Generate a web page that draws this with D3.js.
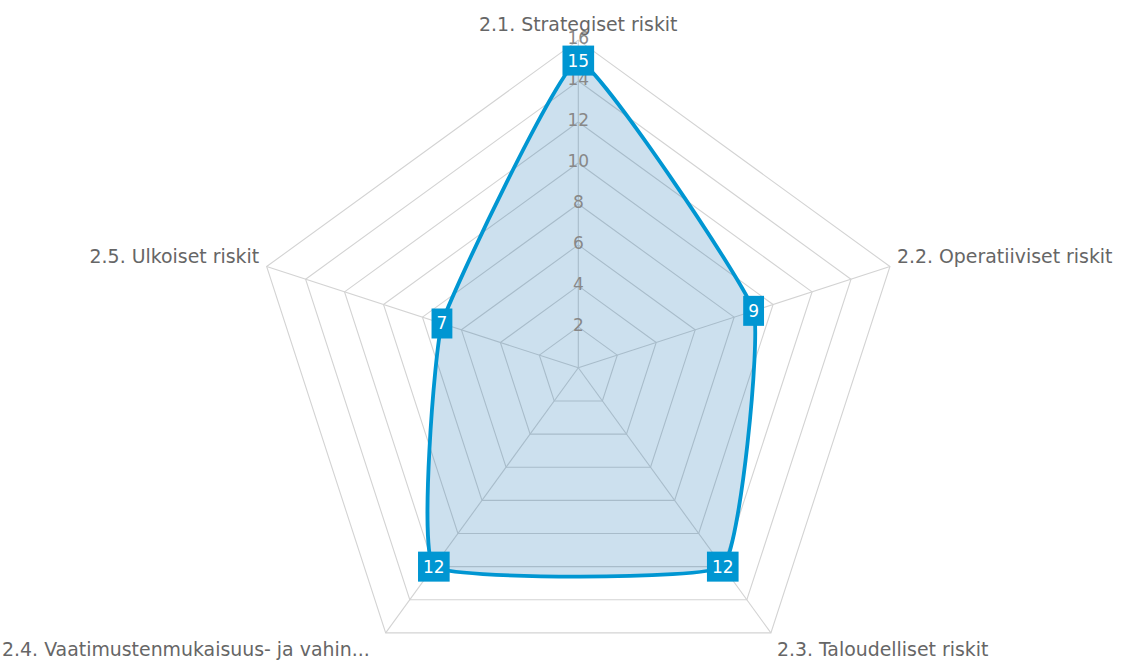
<!DOCTYPE html>
<html>
<head>
<meta charset="utf-8">
<script src="https://cdn.jsdelivr.net/npm/d3@7"></script>
<style>
  html, body { margin: 0; padding: 0; background: #fff; }
  svg { display: block; font-family: "DejaVu Sans", sans-serif; }
</style>
</head>
<body>
<svg id="chart" width="1121" height="662"></svg>
<script>
const categories = [
  "2.1. Strategiset riskit",
  "2.2. Operatiiviset riskit",
  "2.3. Taloudelliset riskit",
  "2.4. Vaatimustenmukaisuus- ja vahin...",
  "2.5. Ulkoiset riskit"
];
const values = [15, 9, 12, 12, 7];
const tickValues = [2, 4, 6, 8, 10, 12, 14, 16];
const maxValue = 16;

const W = 1121, H = 662;
const cx = 578.3, cy = 367.8, R = 327.7;
const lineColor = "#0096d2";

const svg = d3.select("#chart");
const r = d3.scaleLinear().domain([0, maxValue]).range([0, R]);
const angle = d3.scaleLinear().domain([0, categories.length]).range([0, 2 * Math.PI]);

const pt = (i, v) => {
  const a = angle(i);
  return [cx + r(v) * Math.sin(a), cy - r(v) * Math.cos(a)];
};

const g = svg.append("g");

// grid polygons
tickValues.forEach(t => {
  const pts = categories.map((c, i) => pt(i, t));
  g.append("polygon")
    .attr("points", pts.map(p => p.join(",")).join(" "))
    .attr("fill", "none")
    .attr("stroke", "#d3d3d3")
    .attr("stroke-width", 1.1);
});
// spokes
categories.forEach((c, i) => {
  const p = pt(i, maxValue);
  g.append("line")
    .attr("x1", cx).attr("y1", cy)
    .attr("x2", p[0]).attr("y2", p[1])
    .attr("stroke", "#d3d3d3")
    .attr("stroke-width", 1.1);
});

// area
const dataPts = values.map((v, i) => pt(i, v));
const lineGen = d3.line().curve(d3.curveCardinalClosed.tension(0.68));
g.append("path")
  .attr("d", lineGen(dataPts))
  .attr("fill", "rgb(0,100,170)")
  .attr("fill-opacity", 0.2)
  .attr("stroke", "none");

// tick labels
tickValues.forEach(t => {
  g.append("text")
    .attr("x", cx)
    .attr("y", cy - r(t) - 2)
    .attr("text-anchor", "middle")
    .attr("dominant-baseline", "central")
    .attr("font-size", 17)
    .attr("fill", "#888")
    .text(t);
});

g.append("path")
  .attr("d", lineGen(dataPts))
  .attr("fill", "none")
  .attr("stroke", lineColor)
  .attr("stroke-width", 3.8);

// axis labels
categories.forEach((c, i) => {
  const p = pt(i, maxValue);
  const a = angle(i);
  const s = Math.sin(a), co = Math.cos(a);
  let anchor = "middle", x = p[0], y = p[1];
  if (Math.abs(s) < 0.01) { anchor = "middle"; y = p[1] - 9.3; }
  else if (co > 0) { anchor = s > 0 ? "start" : "end"; x = p[0] + (s > 0 ? 7 : -7.5); y = p[1] - 4; }
  else { anchor = s > 0 ? "start" : "end"; x = p[0] + (s > 0 ? 6 : -16); y = p[1] + 23.5; }
  g.append("text")
    .attr("x", x).attr("y", y)
    .attr("text-anchor", anchor)
    .attr("font-size", 18.9)
    .attr("fill", "#666")
    .text(c);
});

// value boxes
values.forEach((v, i) => {
  const p = pt(i, v);
  const lg = g.append("g").attr("transform", `translate(${p[0]},${p[1]})`);
  const txt = lg.append("text")
    .attr("text-anchor", "middle")
    .attr("dominant-baseline", "central")
    .attr("font-size", 17)
    .attr("fill", "#fff")
    .text(v);
  const w = txt.node().getComputedTextLength() + 10;
  lg.insert("rect", "text")
    .attr("x", -w / 2).attr("y", -15)
    .attr("width", w).attr("height", 30)
    .attr("fill", lineColor);
});
</script>
</body>
</html>
